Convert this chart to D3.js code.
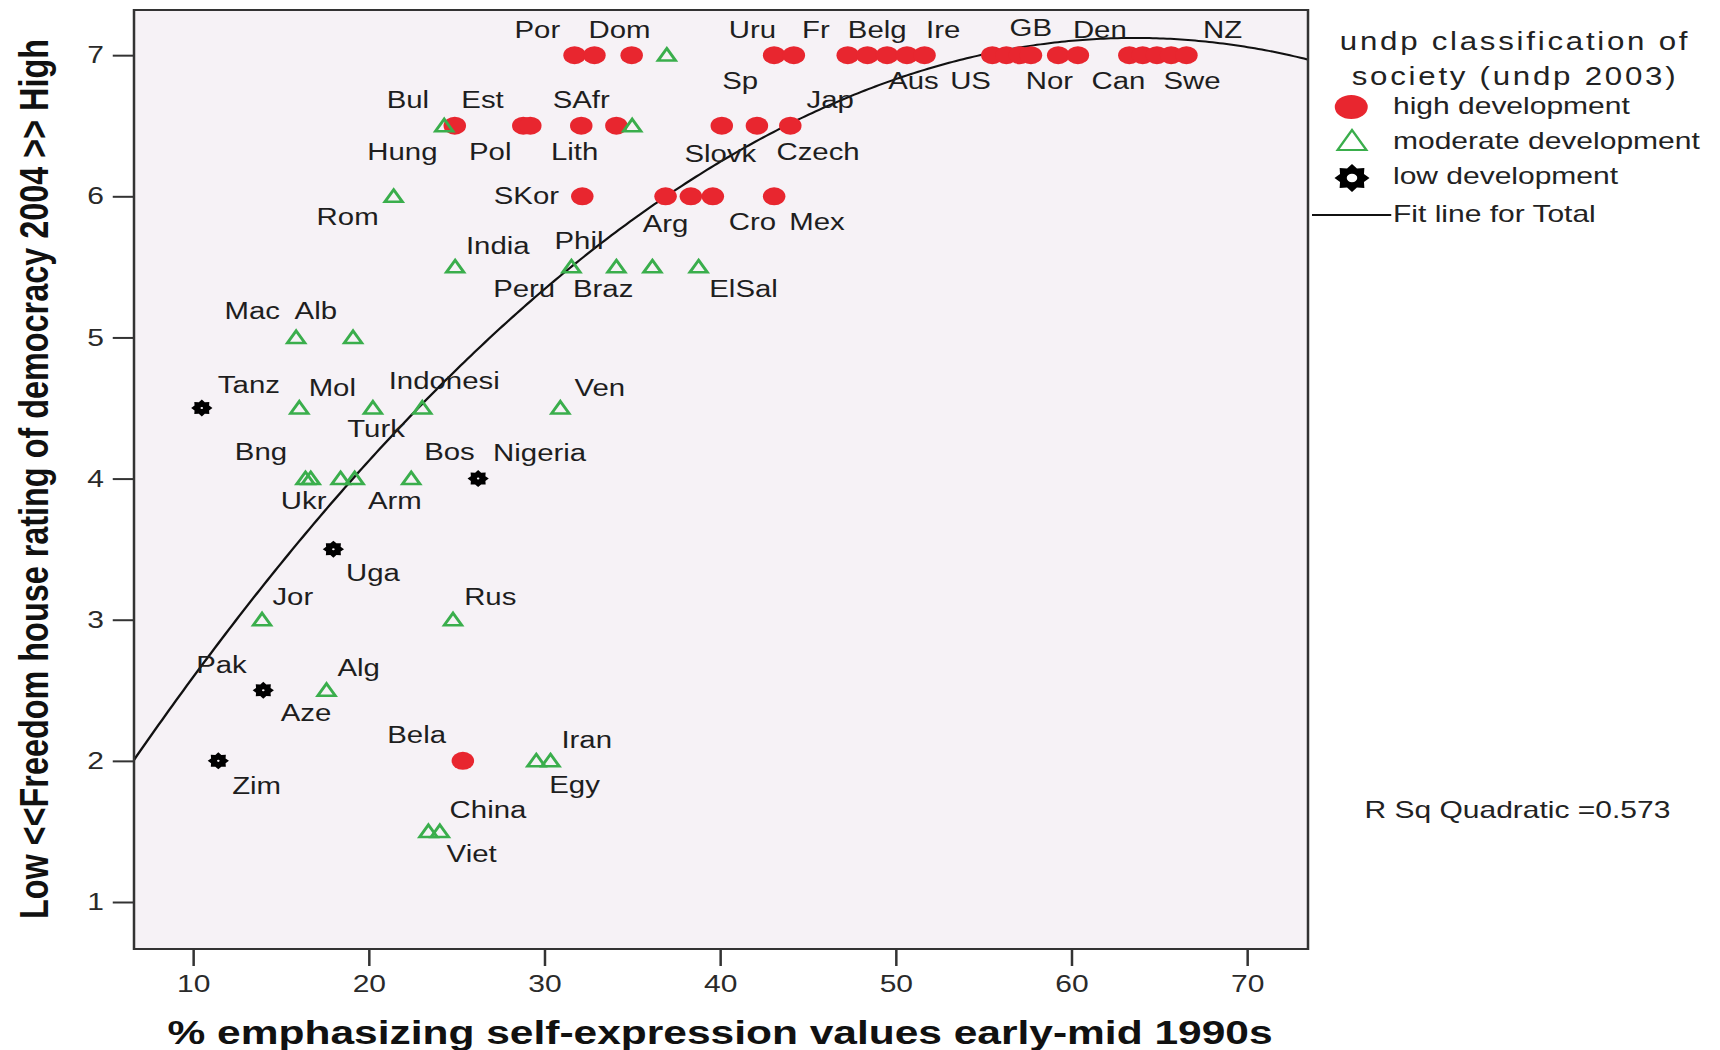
<!DOCTYPE html>
<meta charset="utf-8">
<style>
body {
  margin: 0;
  background: #fff;
}
text {
  font-family: "Liberation Sans", Arial, sans-serif;
}
</style>
<body>
<script src="https://d3js.org/d3.v7.min.js"></script>
<script>
var width = 1720;
var height = 1050;
// the source picture is widened horizontally, so the whole chart is drawn narrow and stretched
var stretch = 1.25;

var xTicks = [10, 20, 30, 40, 50, 60, 70];
var yTicks = [1, 2, 3, 4, 5, 6, 7];

// [self-expression %, freedom rating]
var high = [
  [31.72, 7], [32.85, 7], [34.97, 7], [43.08, 7], [44.2, 7],
  [47.27, 7], [48.39, 7], [49.51, 7], [50.64, 7], [51.64, 7],
  [55.5, 7], [56.3, 7], [57.07, 7], [57.7, 7], [59.25, 7], [60.37, 7],
  [63.3, 7], [64.06, 7], [64.87, 7], [65.68, 7], [66.55, 7],
  [24.9, 6.5], [28.8, 6.5], [29.2, 6.5], [32.1, 6.5], [34.1, 6.5],
  [40.1, 6.5], [42.1, 6.5], [44.0, 6.5],
  [32.16, 6], [36.9, 6], [38.34, 6], [39.59, 6], [43.08, 6],
  [25.36, 2]
];
var moderate = [
  [36.97, 7],
  [24.3, 6.5], [35.0, 6.5],
  [21.42, 6],
  [24.92, 5.5], [31.54, 5.5], [34.1, 5.5], [36.15, 5.5], [38.78, 5.5],
  [15.87, 5], [19.11, 5],
  [16.05, 4.5], [20.24, 4.5], [23.05, 4.5], [30.91, 4.5],
  [16.4, 4], [16.7, 4], [18.4, 4], [19.2, 4], [22.42, 4],
  [13.93, 3], [24.8, 3],
  [17.6, 2.5],
  [29.54, 2], [30.35, 2],
  [23.4, 1.5], [24.05, 1.5]
];
var low = [
  [10.5, 4.5], [26.23, 4], [17.99, 3.5], [14.0, 2.5], [11.44, 2]
];

// quadratic fit for total: c0 + c1*x + c2*x^2
var fitCoef = [0.745, 0.2005, -0.001576];

// country labels, at the data point where each label is centred
var labels = [
  ["Por", 29.6, 7.18], ["Dom", 34.28, 7.18], ["Uru", 41.84, 7.18], ["Fr", 45.46, 7.18],
  ["Belg", 48.95, 7.18], ["Ire", 52.7, 7.18], ["GB", 57.69, 7.19], ["Den", 61.62, 7.18],
  ["NZ", 68.61, 7.18],
  ["Sp", 41.15, 6.82], ["Aus", 51.01, 6.82], ["US", 54.26, 6.82], ["Nor", 58.75, 6.82],
  ["Can", 62.68, 6.82], ["Swe", 66.87, 6.82],
  ["Bul", 22.23, 6.68], ["Est", 26.48, 6.68], ["SAfr", 32.1, 6.68], ["Jap", 46.27, 6.68],
  ["Hung", 21.92, 6.315], ["Pol", 26.92, 6.315], ["Lith", 31.72, 6.315],
  ["Slovk", 40.02, 6.3], ["Czech", 45.58, 6.315],
  ["Rom", 18.8, 5.85], ["SKor", 28.98, 6.0], ["Arg", 36.9, 5.8], ["Cro", 41.84, 5.82],
  ["Mex", 45.52, 5.82],
  ["India", 27.35, 5.65], ["Phil", 31.97, 5.68], ["Peru", 28.85, 5.34],
  ["Braz", 33.35, 5.34], ["ElSal", 41.34, 5.34],
  ["Mac", 13.37, 5.19], ["Alb", 16.99, 5.19],
  ["Tanz", 13.18, 4.66], ["Mol", 17.93, 4.64], ["Indonesi", 24.3, 4.69],
  ["Turk", 20.42, 4.35], ["Ven", 33.16, 4.64],
  ["Bng", 13.87, 4.19], ["Bos", 24.6, 4.19], ["Nigeria", 29.73, 4.18],
  ["Ukr", 16.3, 3.84], ["Arm", 21.49, 3.84],
  ["Uga", 20.24, 3.33], ["Jor", 15.68, 3.16], ["Rus", 26.92, 3.16],
  ["Pak", 11.62, 2.68], ["Alg", 19.43, 2.66], ["Aze", 16.43, 2.34],
  ["Bela", 22.73, 2.18], ["Iran", 32.41, 2.15], ["Zim", 13.62, 1.82], ["Egy", 31.72, 1.83],
  ["China", 26.79, 1.65], ["Viet", 25.86, 1.34]
];

var legendTitle = ["undp classification of", "society (undp 2003)"];
var legendItems = ["high development", "moderate development", "low development"];

var red = "#e8262f";
var green = "#3aae4c";

var svg = d3.select("body").append("svg")
    .attr("width", width)
    .attr("height", height);

var g = svg.append("g").attr("transform", "scale(" + stretch + ",1)");

var plot = {left: 107.2, right: 1046.4, top: 10, bottom: 949};

var x = d3.scaleLinear().domain([6.64, 73.47]).range([plot.left, plot.right]);
var y = d3.scaleLinear().domain([0.667, 7.32]).range([plot.bottom, plot.top]);

// plot background
g.append("rect")
    .attr("x", plot.left).attr("y", plot.top)
    .attr("width", plot.right - plot.left).attr("height", plot.bottom - plot.top)
    .style("fill", "#f6f2f6");

// axes
var yAxis = g.append("g")
    .attr("transform", "translate(" + plot.left + ",0)")
    .call(d3.axisLeft(y).tickValues(yTicks).tickSize(17).tickPadding(7).tickFormat(d3.format("d")));
var xAxis = g.append("g")
    .attr("transform", "translate(0," + plot.bottom + ")")
    .call(d3.axisBottom(x).tickValues(xTicks).tickSize(17).tickPadding(9).tickFormat(d3.format("d")));
[xAxis, yAxis].forEach(function(ax) {
  ax.select(".domain").remove();
  ax.selectAll("line").style("stroke", "#333").style("stroke-width", 2);
  ax.selectAll("text")
    .style("font-family", "'Liberation Sans', Arial, sans-serif")
    .style("font-size", "24px")
    .style("fill", "#2a2a2a");
});

// fit line
var fitX = d3.range(x.domain()[0], x.domain()[1], 0.2).concat([x.domain()[1]]);

g.append("clipPath").attr("id", "clip")
  .append("rect")
    .attr("x", plot.left).attr("y", plot.top)
    .attr("width", plot.right - plot.left).attr("height", plot.bottom - plot.top);

g.append("path")
    .datum(fitX)
    .attr("clip-path", "url(#clip)")
    .attr("d", d3.line()
      .x(function(d) { return x(d); })
      .y(function(d) { return y(fitCoef[0] + fitCoef[1] * d + fitCoef[2] * d * d); }))
    .style("fill", "none")
    .style("stroke", "#111")
    .style("stroke-width", 2);

// marker shapes
function starPath(r, hole) {
  var pts = [];
  for (var i = 0; i < 16; i++) {
    var a = i * Math.PI / 8;
    var rr = i % 2 == 0 ? r : r * 0.74;
    pts.push([rr * Math.sin(a), -rr * Math.cos(a)]);
  }
  var p = "M" + pts.join("L") + "Z";
  if (hole) {
    var h = r * hole;
    p += "M" + h + ",0A" + h + "," + h + " 0 1,0 " + (-h) + ",0A" + h + "," + h + " 0 1,0 " + h + ",0Z";
  }
  return p;
}
function triPath(s) {
  var hgt = s * 0.866;
  return "M0," + (-hgt * 0.55) + "L" + (s / 2) + "," + (hgt * 0.45) + "L" + (-s / 2) + "," + (hgt * 0.45) + "Z";
}

g.selectAll(".high").data(high).enter().append("circle")
    .attr("cx", function(d) { return x(d[0]); })
    .attr("cy", function(d) { return y(d[1]); })
    .attr("r", 9)
    .style("fill", red);

g.selectAll(".mod").data(moderate).enter().append("path")
    .attr("transform", function(d) { return "translate(" + x(d[0]) + "," + y(d[1]) + ")"; })
    .attr("d", triPath(14))
    .style("fill", "none")
    .style("stroke", green)
    .style("stroke-width", 2.5);

g.selectAll(".low").data(low).enter().append("path")
    .attr("transform", function(d) { return "translate(" + x(d[0]) + "," + y(d[1]) + ")"; })
    .attr("d", starPath(8.5, 0.12))
    .style("fill", "#000")
    .style("fill-rule", "evenodd");

// frame on top
g.append("rect")
    .attr("x", plot.left).attr("y", plot.top)
    .attr("width", plot.right - plot.left).attr("height", plot.bottom - plot.top)
    .style("fill", "none")
    .style("stroke", "#333")
    .style("stroke-width", 2);

g.selectAll(".lab").data(labels).enter().append("text")
    .attr("x", function(d) { return x(d[1]); })
    .attr("y", function(d) { return y(d[2]); })
    .attr("text-anchor", "middle")
    .attr("dominant-baseline", "central")
    .style("font-size", "23.5px")
    .style("fill", "#1e1e1e")
    .text(function(d) { return d[0]; });

// axis titles
g.append("text")
    .attr("x", (x(xTicks[0]) + x(xTicks[6])) / 2)
    .attr("y", 1044)
    .attr("text-anchor", "middle")
    .style("font-size", "34px")
    .style("font-weight", "bold")
    .style("fill", "#111")
    .text("% emphasizing self-expression values early-mid 1990s");

g.append("text")
    .attr("transform", "translate(38,479) rotate(-90)")
    .attr("text-anchor", "middle")
    .style("font-size", "32.4px")
    .style("font-weight", "bold")
    .style("fill", "#111")
    .text("Low <<Freedom house rating of democracy 2004 >> High");

// legend
var legend = g.append("g");
legend.selectAll(".lt").data(legendTitle).enter().append("text")
    .attr("x", 1212)
    .attr("y", function(d, i) { return 50 + i * 35; })
    .attr("text-anchor", "middle")
    .style("font-size", "25px")
    .style("letter-spacing", "2.2px")
    .style("fill", "#222")
    .text(function(d) { return d; });

legend.selectAll(".li").data(legendItems).enter().append("text")
    .attr("x", 1114.4)
    .attr("y", function(d, i) { return 114 + i * 35; })
    .style("font-size", "24px")
    .style("fill", "#222")
    .text(function(d) { return d; });

legend.append("ellipse")
    .attr("cx", 1081).attr("cy", 107)
    .attr("rx", 13.2).attr("ry", 12)
    .style("fill", red);
legend.append("path")
    .attr("transform", "translate(1081.6,141)")
    .attr("d", triPath(23))
    .style("fill", "none")
    .style("stroke", green)
    .style("stroke-width", 2);
legend.append("path")
    .attr("transform", "translate(1081.6,178)")
    .attr("d", starPath(14, 0.3))
    .style("fill", "#000")
    .style("fill-rule", "evenodd");

legend.append("line")
    .attr("x1", 1049.6).attr("x2", 1113)
    .attr("y1", 215).attr("y2", 215)
    .style("stroke", "#111")
    .style("stroke-width", 2);
legend.append("text")
    .attr("x", 1114.4).attr("y", 222)
    .style("font-size", "24px")
    .style("fill", "#222")
    .text("Fit line for Total");

g.append("text")
    .attr("x", 1091.6).attr("y", 818)
    .style("font-size", "24px")
    .style("fill", "#222")
    .text("R Sq Quadratic =0.573");
</script>
